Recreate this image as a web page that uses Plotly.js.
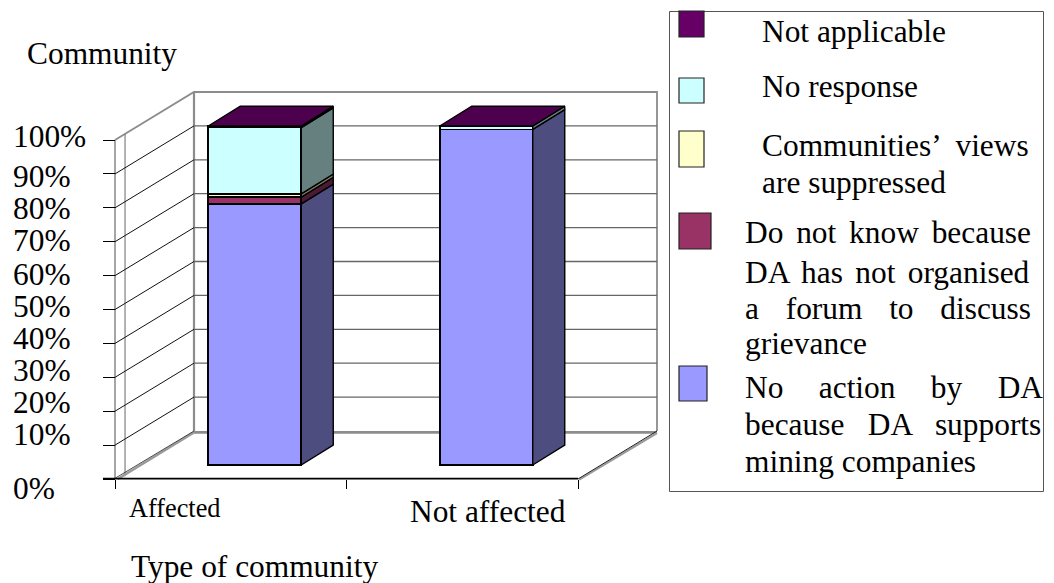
<!DOCTYPE html>
<html>
<head>
<meta charset="utf-8">
<script src="https://cdn.plot.ly/plotly-3.0.1.min.js"></script>
<style>html,body{margin:0;padding:0;background:#fff}#chart{width:1054px;height:583px}</style>
</head>
<body>
<div id="chart"></div>
<script>
// Survey shares per community type, bottom of the stack first
const categories = ['Affected', 'Not affected'];
const noAction = [77, 99];
const doNotKnow = [2, 0];
const suppressed = [1, 0];
const noResponse = [19.5, 1];
const notApplicable = [0.5, 0];

const tickValues = [0, 10, 20, 30, 40, 50, 60, 70, 80, 90, 100];
const tickLabels = ['0%', '10%', '20%', '30%', '40%', '50%', '60%', '70%', '80%', '90%', '100%'];

const seriesColors = ['#9999FF', '#993366', '#FFFFCC', '#CCFFFF', '#660066'];
const sideColors = ['#4D4D80', '#4D1A33', '#808066', '#668080', '#330033'];
const topColor = '#4D004D';
const seriesNames = ['No action by DA because DA supports mining companies',
  'Do not know because DA has not organised a forum to discuss grievance',
  'Communities’ views are suppressed', 'No response', 'Not applicable'];
const seriesValues = [noAction, doNotKnow, suppressed, noResponse, notApplicable];

// Page geometry
const W = 1054, H = 583;
const FONT = '"Liberation Serif", "Times New Roman", serif';
const TEXT_SIZE = 31.4;
const pxPerBand = 231.5, pxPerUnit = 3.39;
const axisLeft = 115, axisBase = 479, barBase = 465;

// Oblique depth of the box and of the bars, in axis units
const wallDx = 79 / pxPerBand, wallDy = 48 / pxPerUnit;
const barShift = 24 / pxPerBand, barWidth = 93 / pxPerBand;
const barDx = 32 / pxPerBand, barDy = 19.8 / pxPerUnit;

const xRange = [-axisLeft / pxPerBand, (W - axisLeft) / pxPerBand];
const yRange = [(axisBase - H) / pxPerUnit, axisBase / pxPerUnit];
const y2Range = [(barBase - H) / pxPerUnit, barBase / pxPerUnit];
const nBands = categories.length;

function line(xs, ys, color, width, yaxis) {
  return {type: 'scatter', mode: 'lines', x: xs, y: ys, yaxis: yaxis || 'y',
    line: {color: color, width: width}, hoverinfo: 'skip', showlegend: false};
}

const traces = [];

// Box walls and floor
const topV = 100;
traces.push(line([0, wallDx, wallDx + nBands, wallDx + nBands],
  [topV, topV + wallDy, topV + wallDy, wallDy], '#8c8c8c', 1.8));
traces.push(line([wallDx, wallDx], [wallDy, topV + wallDy], '#8c8c8c', 2.2));
traces.push(line([0, 0], [0, topV], '#909090', 1.6));
traces.push(line([wallDx * 0.127, wallDx * 0.127], [wallDy * 0.127 - 1, topV + wallDy * 0.127], '#808080', 1.2));

const gridVals = tickValues.slice(1, -1);
const backX = [], backY = [], sideX = [], sideY = [];
gridVals.forEach(v => {
  backX.push(wallDx, wallDx + nBands, null);
  backY.push(v + wallDy, v + wallDy, null);
  sideX.push(0, wallDx, null);
  sideY.push(v, v + wallDy, null);
});
traces.push(line(backX, backY, '#666666', 1.3));
traces.push(line(sideX, sideY, '#111111', 1));

traces.push(line([wallDx, wallDx + nBands], [wallDy - 0.4, wallDy - 0.4], '#8c8c8c', 2.6));
traces.push(line([0.012, wallDx], [0, wallDy - 0.4], '#9a9a9a', 2.4));
traces.push(line([0, wallDx], [0.2, wallDy], '#222222', 0.8));
traces.push(line([nBands + 0.005, nBands + wallDx], [-0.2, wallDy - 0.6], '#9a9a9a', 2.2));
traces.push(line([nBands, nBands + wallDx], [0, wallDy], '#222222', 1));
traces.push(line([-12 / pxPerBand, nBands], [0.1, 0.1], '#000000', 1.6));

// Side faces and lid of each stacked column, on the column's own value axis
categories.forEach((c, i) => {
  const right = i + 0.5 + barShift + barWidth / 2;
  const left = right - barWidth;
  let total = 0;
  seriesValues.forEach((vals, s) => {
    const a = total, b = total + vals[i];
    total = b;
    if (vals[i] === 0) return;
    traces.push({type: 'scatter', mode: 'lines', yaxis: 'y2', fill: 'toself',
      x: [right, right + barDx, right + barDx, right, right],
      y: [a, a + barDy, b + barDy, b, a],
      fillcolor: sideColors[s], line: {color: '#000', width: 1.4},
      hoverinfo: 'skip', showlegend: false});
  });
  traces.push({type: 'scatter', mode: 'lines', yaxis: 'y2', fill: 'toself',
    x: [left, right, right + barDx, left + barDx, left],
    y: [total, total, total + barDy, total + barDy, total],
    fillcolor: topColor, line: {color: '#000', width: 1.4},
    hoverinfo: 'skip', showlegend: false});
});

// Front faces of the stacked columns
seriesValues.forEach((vals, s) => {
  traces.push({type: 'bar', name: seriesNames[s], yaxis: 'y2',
    x: categories.map((c, i) => i + 0.5 + barShift), y: vals, width: barWidth,
    marker: {color: seriesColors[s], line: {color: '#000', width: 1.6}},
    showlegend: false, hoverinfo: 'skip'});
});

const fx = px => px / W;
const fy = py => 1 - py / H;

function text(str, px, py, size, anchor) {
  return {text: str, xref: 'paper', yref: 'paper', x: fx(px), y: fy(py), showarrow: false,
    xanchor: anchor || 'left', yanchor: 'middle', align: 'left',
    font: {family: FONT, size: size, color: '#000'}, borderpad: 0, borderwidth: 0};
}

// Lines are stretched to the column width the way justified text is
const meter = document.createElement('canvas').getContext('2d');
function justified(str, size, width) {
  meter.font = size + 'px ' + FONT;
  const gaps = str.split(' ').length - 1;
  const extra = (width - meter.measureText(str).width) / gaps;
  return '<span style="word-spacing:' + extra.toFixed(2) + 'px">' + str + '</span>';
}

const annotations = [];
annotations.push(text('Community', 27, 53, TEXT_SIZE));
annotations.push(text('Type of community', 131, 566, TEXT_SIZE));
annotations.push(text(categories[0], 129, 508, 26.3));
annotations.push(text(categories[1], 410, 511, TEXT_SIZE));

// Y labels, set slightly off their ticks
const tickLabelShift = [9.7, -10.8, -8.9, -7, -5.1, -2.8, -1.3, -1, 0.5, 2.6, -3.3];
tickValues.forEach((v, i) => {
  const py = axisBase - v * pxPerUnit + tickLabelShift[i];
  annotations.push(text(tickLabels[i], 13, py, TEXT_SIZE));
});

// Legend text lines: [text, left, centre y, justified width or 0]
const legendLines = [
  ['Not applicable', 762, 31, 0],
  ['No response', 762, 86, 0],
  ['Communities’ views', 762, 146, 269],
  ['are suppressed', 762, 182, 0],
  ['Do not know because', 745, 233, 286],
  ['DA has not organised', 745, 272, 286],
  ['a forum to discuss', 745, 308, 286],
  ['grievance', 745, 343, 0],
  ['No action by DA', 745, 387, 298],
  ['because DA supports', 745, 424, 298],
  ['mining companies', 745, 461, 0]
];
legendLines.forEach(l => {
  annotations.push(text(l[3] ? justified(l[0], TEXT_SIZE, l[3]) : l[0], l[1], l[2], TEXT_SIZE));
});

// Legend frame and colour keys
const shapes = [{type: 'rect', xref: 'paper', yref: 'paper', x0: fx(669.5), x1: fx(1043.5), y0: fy(491.5), y1: fy(11.5),
  line: {color: '#555', width: 1}, fillcolor: 'rgba(0,0,0,0)'}];
const swatches = [
  [4, 679, 704, 11, 37], [3, 679, 704, 78, 103], [2, 679, 704, 131, 167],
  [1, 679, 711, 213, 249], [0, 679, 707, 366, 401]
];
swatches.forEach(k => shapes.push({type: 'rect', xref: 'paper', yref: 'paper',
  x0: fx(k[1]), x1: fx(k[2]), y0: fy(k[4]), y1: fy(k[3]),
  fillcolor: seriesColors[k[0]], line: {color: '#222', width: 1.2}}));

const layout = {
  width: W, height: H, margin: {l: 0, r: 0, t: 0, b: 0},
  paper_bgcolor: '#fff', plot_bgcolor: 'rgba(0,0,0,0)',
  barmode: 'stack', showlegend: false,
  xaxis: {range: xRange, anchor: 'free', position: fy(axisBase), showgrid: false, zeroline: false, showline: false,
    tickmode: 'array', tickvals: [0, 1, 2], ticktext: ['', '', ''], ticks: 'outside', ticklen: 9, tickwidth: 1, tickcolor: '#000', showticklabels: false},
  yaxis: {range: yRange, anchor: 'free', position: fx(axisLeft), showgrid: false, zeroline: false, showline: false,
    tickmode: 'array', tickvals: tickValues, ticks: 'outside', ticklen: 12, tickwidth: 1, tickcolor: '#000', showticklabels: false},
  yaxis2: {range: y2Range, overlaying: 'y', anchor: 'x', visible: false, showgrid: false, zeroline: false},
  annotations: annotations, shapes: shapes
};

Plotly.newPlot('chart', traces, layout, {displayModeBar: false, staticPlot: true});
</script>
</body>
</html>
